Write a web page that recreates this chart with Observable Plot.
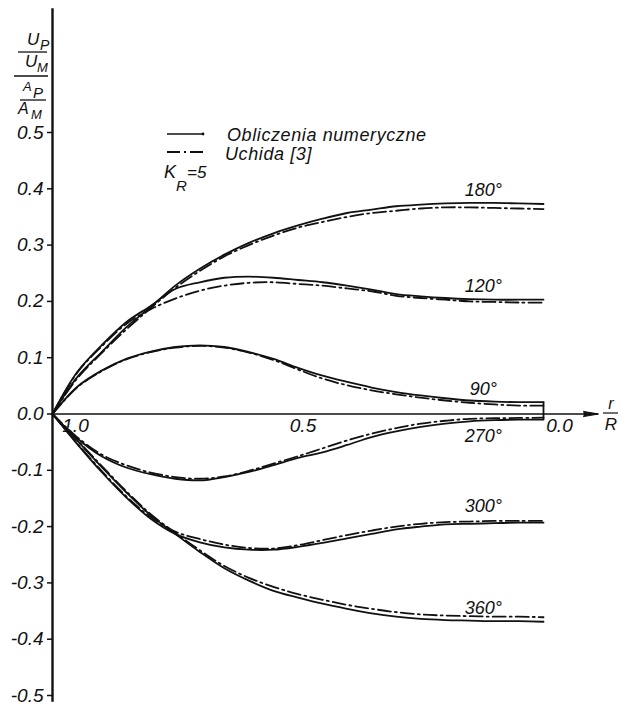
<!DOCTYPE html>
<html>
<head>
<meta charset="utf-8">
<script src="https://cdn.jsdelivr.net/npm/d3@7"></script>
<script src="https://cdn.jsdelivr.net/npm/@observablehq/plot@0.6"></script>
<style>
  html, body { margin: 0; padding: 0; background: #fff; }
  #chart svg { display: block; }
</style>
</head>
<body>
<div id="chart"></div>
<script>
// ---- data ----
const rValues = [1.0, 0.95, 0.9, 0.85, 0.8, 0.75, 0.7, 0.65, 0.6, 0.55, 0.5, 0.45, 0.4, 0.35, 0.3, 0.25, 0.2, 0.15, 0.1, 0.05, 0.0];
const yTicks = [0.5, 0.4, 0.3, 0.2, 0.1, 0.0, -0.1, -0.2, -0.3, -0.4, -0.5];
const xTicks = [1.0, 0.5, 0.0];
const angles = ["180", "120", "90", "270", "300", "360"];
const seriesNames = ["Obliczenia numeryczne", "Uchida [3]"];
const parameterLabel = ["K", "R", "=5"];
const yTitleParts = ["U", "P", "U", "M", "A", "P", "A", "M"];
const xTitleParts = ["r", "R"];

// Obliczenia numeryczne (solid)
const numeric180 = [0, 0.065, 0.110, 0.154, 0.190, 0.228, 0.258, 0.283, 0.304, 0.321, 0.335, 0.347, 0.357, 0.363, 0.369, 0.372, 0.374, 0.375, 0.375, 0.374, 0.373];
const numeric120 = [0, 0.074, 0.122, 0.163, 0.192, 0.222, 0.234, 0.242, 0.244, 0.242, 0.238, 0.234, 0.228, 0.221, 0.213, 0.209, 0.206, 0.204, 0.203, 0.203, 0.203];
const numeric90  = [0, 0.048, 0.077, 0.098, 0.111, 0.119, 0.122, 0.119, 0.110, 0.098, 0.082, 0.068, 0.057, 0.047, 0.039, 0.033, 0.028, 0.024, 0.022, 0.021, 0.021];
const numeric270 = [0, -0.043, -0.075, -0.095, -0.107, -0.115, -0.118, -0.112, -0.103, -0.091, -0.078, -0.068, -0.055, -0.041, -0.031, -0.023, -0.017, -0.013, -0.011, -0.010, -0.010];
const numeric300 = [0, -0.053, -0.103, -0.148, -0.186, -0.213, -0.228, -0.237, -0.241, -0.241, -0.236, -0.229, -0.221, -0.213, -0.205, -0.200, -0.196, -0.195, -0.194, -0.193, -0.193];
const numeric360 = [0, -0.047, -0.094, -0.139, -0.180, -0.213, -0.245, -0.274, -0.296, -0.314, -0.326, -0.337, -0.346, -0.354, -0.360, -0.364, -0.366, -0.367, -0.368, -0.368, -0.369];

// Uchida [3] (dash-dot)
const uchida180 = [0, 0.063, 0.108, 0.150, 0.188, 0.224, 0.254, 0.280, 0.300, 0.317, 0.331, 0.341, 0.350, 0.357, 0.361, 0.365, 0.367, 0.367, 0.366, 0.365, 0.364];
const uchida120 = [0, 0.073, 0.120, 0.160, 0.186, 0.205, 0.219, 0.228, 0.233, 0.234, 0.231, 0.228, 0.223, 0.218, 0.210, 0.206, 0.203, 0.200, 0.199, 0.198, 0.198];
const uchida90  = [0, 0.047, 0.076, 0.097, 0.110, 0.118, 0.121, 0.118, 0.109, 0.096, 0.079, 0.063, 0.051, 0.042, 0.035, 0.029, 0.024, 0.020, 0.017, 0.015, 0.015];
const uchida270 = [0, -0.041, -0.072, -0.091, -0.104, -0.112, -0.115, -0.111, -0.101, -0.088, -0.075, -0.061, -0.047, -0.035, -0.025, -0.017, -0.012, -0.0085, -0.0075, -0.007, -0.0065];
const uchida300 = [0, -0.052, -0.101, -0.146, -0.183, -0.209, -0.222, -0.232, -0.238, -0.239, -0.233, -0.224, -0.215, -0.207, -0.200, -0.195, -0.192, -0.191, -0.190, -0.190, -0.190];
const uchida360 = [0, -0.046, -0.092, -0.137, -0.178, -0.211, -0.242, -0.270, -0.291, -0.307, -0.320, -0.330, -0.339, -0.346, -0.352, -0.356, -0.358, -0.359, -0.360, -0.360, -0.361];

// axis extents (axis line beyond the plotted domain, arrow at r/R end)
const yAxisExtent = [-0.512, 0.72];
const xAxisExtent = [1.0, -0.112];

// ---- build tables ----
const numeric = {"180": numeric180, "120": numeric120, "90": numeric90, "270": numeric270, "300": numeric300, "360": numeric360};
const uchida  = {"180": uchida180, "120": uchida120, "90": uchida90, "270": uchida270, "300": uchida300, "360": uchida360};
const numRows = [], uchRows = [];
for (const a of angles) {
  rValues.forEach((r, i) => {
    numRows.push({angle: a, r, v: numeric[a][i]});
    uchRows.push({angle: a, r, v: uchida[a][i]});
  });
}
const labelIndex = 18;
const labelDy = {"180": -13, "120": -13, "90": -12, "270": 16, "300": -17, "360": -13};
const xTickDx = [23, 5, 16];
const last = rValues.length - 1;

const FONT = "'Liberation Sans', Arial, sans-serif";
const INK = "#111";

const chart = Plot.plot({
  width: 619,
  height: 706,
  marginLeft: 52,
  marginRight: 76,
  marginTop: 132,
  marginBottom: 11,
  style: {background: "#fff", color: INK, fontFamily: FONT, overflow: "visible"},
  x: {type: "linear", domain: [1, 0], axis: null},
  y: {domain: [-0.5, 0.5], axis: null},
  marks: [
    // axes lines
    Plot.ruleY([0], {x1: xAxisExtent[0], x2: xAxisExtent[1], stroke: INK, strokeWidth: 1.3}),
    Plot.vector([0], {x: xAxisExtent[1], y: 0, shape: "spike", anchor: "end", length: 15, r: 2.6, rotate: 90, stroke: INK, fill: INK, strokeWidth: 1}),
    Plot.ruleX([1], {y1: yAxisExtent[0], y2: yAxisExtent[1], stroke: INK, strokeWidth: 2.4}),
    Plot.axisY(yTicks, {
      tickFormat: d => d.toFixed(1), tickSize: 5, tickPadding: 4,
      fontSize: 19, fontStyle: "italic", fill: INK, stroke: INK, strokeWidth: 1.5, label: null
    }),
    ...xTicks.map((t, i) => Plot.text([t], {
      x: d => d, y: 0, text: d => d.toFixed(1), dx: xTickDx[i], dy: 12,
      fontSize: 19, fontStyle: "italic", fill: INK
    })),
    // curves
    Plot.line(numRows, {x: "r", y: "v", z: "angle", curve: "catmull-rom", stroke: INK, strokeWidth: 1.8}),
    Plot.line(uchRows, {x: "r", y: "v", z: "angle", curve: "catmull-rom", stroke: INK, strokeWidth: 1.8, strokeDasharray: "13,4,2,4"}),
    // closing segment at r/R = 0 between 90° and 270°
    Plot.ruleX([rValues[last]], {y1: numeric90[last], y2: numeric270[last], stroke: INK, strokeWidth: 1.8}),
    // curve labels
    ...angles.map(a => Plot.text([{r: rValues[labelIndex], v: numeric[a][labelIndex], t: a + "°"}], {
      x: "r", y: "v", text: "t", dx: -11, dy: labelDy[a],
      fontSize: 18, fontStyle: "italic", fill: INK
    }))
  ]
});

document.getElementById("chart").appendChild(chart);

// ---- annotations (legend, axis titles) ----
const svg = d3.select(chart);
const g = svg.append("g")
  .attr("fill", INK)
  .style("font-family", FONT)
  .style("font-style", "italic");

function txt(x, y, s, size, anchor = "start") {
  return g.append("text").attr("x", x).attr("y", y).attr("font-size", size)
    .attr("text-anchor", anchor).text(s);
}
function bar(x1, x2, y, w = 1.3, dash = null) {
  const l = g.append("line").attr("x1", x1).attr("x2", x2).attr("y1", y).attr("y2", y)
    .attr("stroke", INK).attr("stroke-width", w);
  if (dash) l.attr("stroke-dasharray", dash);
  return l;
}

// legend
bar(167, 203, 134, 1.6);
g.append("circle").attr("cx", 203).attr("cy", 134).attr("r", 1.4);
txt(227, 141, seriesNames[0], 18).attr("letter-spacing", 0.6);
bar(167, 203, 152, 1.8, "13,4,2,4");
txt(225, 160, seriesNames[1], 18).attr("letter-spacing", 0.6);
txt(164, 178, parameterLabel[0], 18);
txt(176, 191, parameterLabel[1], 15);
txt(187, 178, parameterLabel[2], 17);

// y title:  (U_P / U_M) / (A_P / A_M)
txt(27, 45, yTitleParts[0], 17);
txt(40, 50, yTitleParts[1], 14);
bar(18, 47, 52);
txt(25, 67, yTitleParts[2], 17);
txt(37, 72, yTitleParts[3], 13);
bar(14, 48, 76);
txt(23, 91, yTitleParts[4], 13);
txt(33, 98, yTitleParts[5], 15);
bar(20, 46, 100);
txt(18, 114, yTitleParts[6], 16);
txt(31, 119, yTitleParts[7], 13);

// x title: r / R
txt(611, 409, xTitleParts[0], 16, "middle");
bar(603, 618, 413, 1.2);
txt(611, 430, xTitleParts[1], 17, "middle");
</script>
</body>
</html>
